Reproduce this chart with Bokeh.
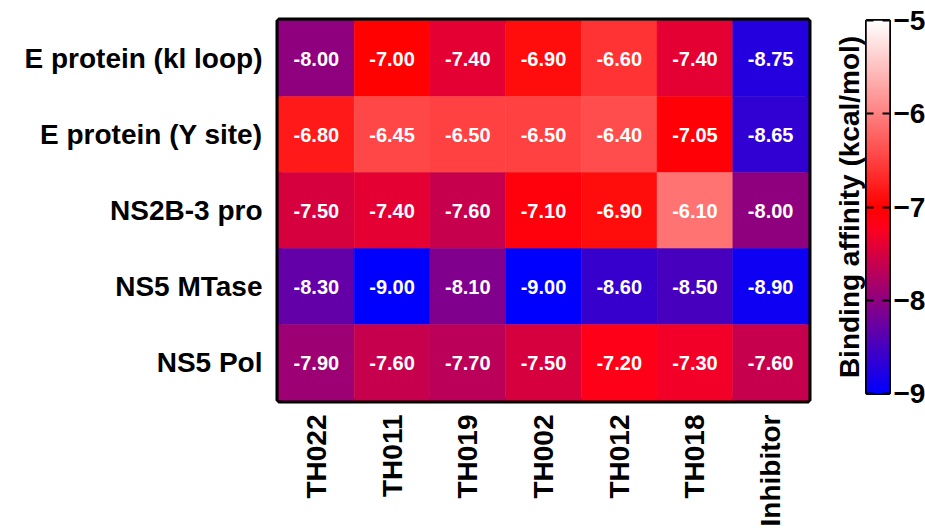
import numpy as np
from math import pi
from bokeh.plotting import figure
from bokeh.models import (FactorRange, Range1d, LinearColorMapper, FixedTicker,
                          LinearAxis, ColumnDataSource)
from bokeh.layouts import row
from bokeh.embed import file_html
from bokeh.resources import INLINE
from bokeh.core.properties import value

# ---------------- data ----------------
targets = ["E protein (kl loop)", "E protein (Y site)", "NS2B-3 pro", "NS5 MTase", "NS5 Pol"]
ligands = ["TH022", "TH011", "TH019", "TH002", "TH012", "TH018", "Inhibitor"]
kl_loop = [-8.00, -7.00, -7.40, -6.90, -6.60, -7.40, -8.75]
y_site = [-6.80, -6.45, -6.50, -6.50, -6.40, -7.05, -8.65]
ns2b3_pro = [-7.50, -7.40, -7.60, -7.10, -6.90, -6.10, -8.00]
ns5_mtase = [-8.30, -9.00, -8.10, -9.00, -8.60, -8.50, -8.90]
ns5_pol = [-7.90, -7.60, -7.70, -7.50, -7.20, -7.30, -7.60]
cbar_ticks = [-9, -8, -7, -6, -5]
cbar_title = "Binding affinity (kcal/mol)"

rows_vals = [kl_loop, y_site, ns2b3_pro, ns5_mtase, ns5_pol]

# ---------------- palette: blue -> purple -> red -> white ----------------
lo, hi = min(cbar_ticks), max(cbar_ticks)
pal = []
for v in np.linspace(lo, hi, 256):
    if v <= -7:
        t = (v - lo) / 2.0
        r = min(255, int(round(255 * t * 1.12)))
        g = 0
        b = int(round(255 * (1 - t)))
    else:
        t = (v + 7) / 2.0
        r = 255
        g = int(round(255 * t))
        b = int(round(255 * t))
    pal.append("#%02x%02x%02x" % (r, g, b))
mapper = LinearColorMapper(palette=pal, low=lo, high=hi)

xs, ys, vs = [], [], []
for tname, vals in zip(targets, rows_vals):
    for lig, v in zip(ligands, vals):
        xs.append(lig)
        ys.append(tname)
        vs.append(v)
src = ColumnDataSource(dict(x=xs, y=ys, v=vs, label=["%.2f" % v for v in vs]))

FONT = "Liberation Sans"

p = figure(x_range=FactorRange(*ligands), y_range=FactorRange(*targets[::-1]),
           frame_width=530, frame_height=380,
           min_border_left=278, min_border_right=11, min_border_top=20, min_border_bottom=10,
           output_backend="svg", toolbar_location=None, tools="")
p.x_range.range_padding = 0
p.y_range.range_padding = 0

p.rect(x="x", y="y", width=1, height=1, source=src,
       fill_color={"field": "v", "transform": mapper},
       line_color={"field": "v", "transform": mapper}, line_width=0.5)
p.text(x="x", y="y", text="label", source=src, text_color="white",
       text_font=value(FONT), text_font_style="bold", text_font_size="20px",
       text_align="center", text_baseline="middle")

p.grid.visible = False
p.outline_line_color = "black"
p.outline_line_width = 6
p.outline_line_alpha = 1
for ax in (p.xaxis[0], p.yaxis[0]):
    ax.axis_line_color = None
    ax.major_tick_line_color = None
    ax.minor_tick_line_color = None
    ax.major_tick_in = 0
    ax.major_tick_out = 0
    ax.major_label_text_font = FONT
    ax.major_label_text_font_style = "bold"
    ax.major_label_text_color = "black"
p.xaxis.major_label_orientation = pi / 2
p.xaxis.major_label_text_font_size = "28px"
p.xaxis.major_label_standoff = 14
p.yaxis.major_label_text_font_size = "28px"
p.yaxis.major_label_standoff = 16

# ---------------- colour bar ----------------
cb = figure(x_range=Range1d(0, 1), y_range=Range1d(lo, hi),
            frame_width=23, frame_height=373,
            min_border_left=47, min_border_right=34, min_border_top=19, min_border_bottom=30,
            y_axis_location="right", x_axis_location=None,
            output_backend="svg", toolbar_location=None, tools="")
grad = np.linspace(lo, hi, 256).reshape(256, 1)
cb.image(image=[grad], x=0, y=lo, dw=1, dh=hi - lo, color_mapper=mapper)
cb.grid.visible = False
cb.outline_line_color = "black"
cb.outline_line_width = 3

ra = cb.yaxis[0]
ra.ticker = FixedTicker(ticks=cbar_ticks)
ra.axis_line_color = None
ra.major_tick_in = 7
ra.major_tick_out = 0
ra.major_tick_line_width = 2
ra.major_tick_line_color = "black"
ra.minor_tick_line_color = None
ra.major_label_text_font = FONT
ra.major_label_text_font_style = "bold"
ra.major_label_text_font_size = "28px"
ra.major_label_text_color = "black"
ra.major_label_standoff = 4

la = LinearAxis(ticker=FixedTicker(ticks=cbar_ticks))
la.axis_line_color = None
la.major_tick_in = 7
la.major_tick_out = 0
la.major_tick_line_width = 2
la.major_tick_line_color = "black"
la.minor_tick_line_color = None
la.major_label_overrides = {t: "" for t in cbar_ticks}
la.major_label_standoff = 0
la.axis_label = cbar_title
la.axis_label_text_font = FONT
la.axis_label_text_font_style = "bold"
la.axis_label_text_font_size = "28px"
la.axis_label_text_color = "black"
la.axis_label_standoff = 2
cb.add_layout(la, "left")

layout = row(p, cb)
open("out.html", "w").write(file_html(layout, INLINE))
